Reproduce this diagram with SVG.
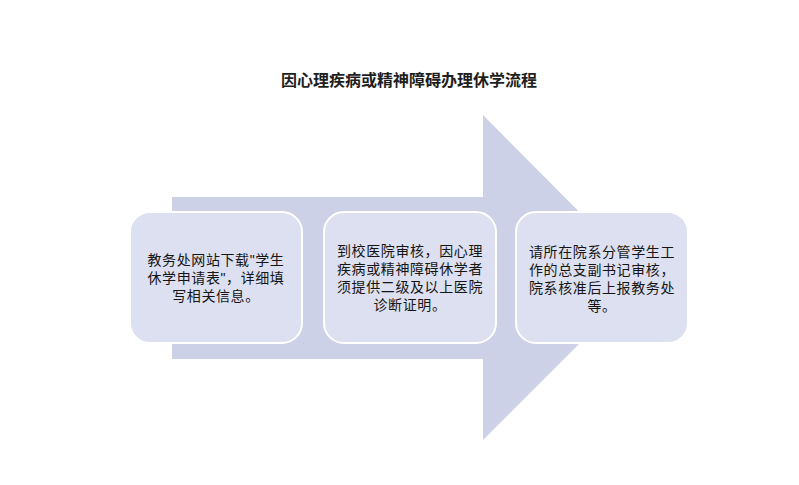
<svg xmlns="http://www.w3.org/2000/svg" width="799" height="485" viewBox="0 0 799 485">
<style>
.t{font-family:"Liberation Sans","Noto Sans CJK SC",sans-serif;font-size:14px;fill:#151515;text-anchor:middle;letter-spacing:0.6px}
.title{font-family:"Liberation Sans","Noto Sans CJK SC",sans-serif;font-size:16px;font-weight:bold;fill:#1e1e1e;text-anchor:middle}
.box{fill:#dce0f0;stroke:#ffffff;stroke-width:2}
</style>
<rect width="799" height="485" fill="#ffffff"/>
<text class="title" x="409" y="86">因心理疾病或精神障碍办理休学流程</text>
<g id="connectors">
<polygon points="172,197 483,197 483,115 645,278 483,440 483,359 172,359" fill="#cdd1e7"/>
</g>
<g id="node1">
<rect class="box" x="130" y="212" width="172" height="131" rx="20"/>
<text class="t" x="216" y="265">教务处网站下载"学生</text>
<text class="t" x="216" y="283">休学申请表"，详细填</text>
<text class="t" x="216" y="301">写相关信息。</text>
</g>
<g id="node2">
<rect class="box" x="324" y="212" width="172" height="131" rx="20"/>
<text class="t" x="410" y="256">到校医院审核，因心理</text>
<text class="t" x="410" y="274">疾病或精神障碍休学者</text>
<text class="t" x="410" y="292">须提供二级及以上医院</text>
<text class="t" x="410" y="310">诊断证明。</text>
</g>
<g id="node3">
<rect class="box" x="516" y="212" width="172" height="131" rx="20"/>
<text class="t" x="602" y="257">请所在院系分管学生工</text>
<text class="t" x="602" y="275">作的总支副书记审核，</text>
<text class="t" x="602" y="293">院系核准后上报教务处</text>
<text class="t" x="602" y="311">等。</text>
</g>
</svg>
